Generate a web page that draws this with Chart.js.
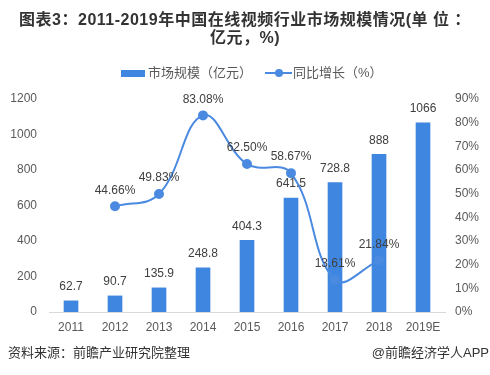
<!DOCTYPE html>
<html>
<head>
<meta charset="utf-8">
<script src="https://cdn.jsdelivr.net/npm/chart.js@4"></script>
<style>
    body { margin: 0; background: #fff; }
    .wrap { position: relative; width: 490px; height: 375px; overflow: hidden; font-family: "Liberation Sans", "Noto Sans CJK SC", sans-serif; }
    .title { position: absolute; left: 0; top: 11px; width: 490px; text-align: center; font-size: 16px; font-weight: bold; color: #333; line-height: 18px; letter-spacing: 0.5px; }
    .legend { position: absolute; top: 65px; font-size: 13px; color: #595959; line-height: 16px; }
    .swatch { position: absolute; left: 121px; top: 70px; width: 24px; height: 7px; background: #3f86e0; }
    .lineKey { position: absolute; left: 265px; top: 72px; width: 27px; height: 2px; background: #4a8ae0; }
    .lineKey::after { content: ''; position: absolute; left: 10px; top: -3px; width: 8px; height: 8px; border-radius: 50%; background: #4a8ae0; }
    .foot { position: absolute; top: 345px; font-size: 13px; color: #333; line-height: 16px; }
    canvas { position: absolute; left: 0; top: 0; }
</style>
</head>
<body>
<div class="wrap">
    <canvas id="chart" width="490" height="375"></canvas>
    <div class="title">图表3：2011-2019年中国在线视频行业市场规模情况(单 位 ：<br>亿元，%)</div>
    <div class="swatch"></div>
    <div class="legend" style="left:148px">市场规模（亿元）</div>
    <div class="lineKey"></div>
    <div class="legend" style="left:293px">同比增长（%）</div>
    <div class="foot" style="left:8px">资料来源：前瞻产业研究院整理</div>
    <div class="foot" style="right:1px">@前瞻经济学人APP</div>
</div>
<script>
const years = ['2011', '2012', '2013', '2014', '2015', '2016', '2017', '2018', '2019E'];
const marketSize = [62.7, 90.7, 135.9, 248.8, 404.3, 641.5, 728.8, 888, 1066];
const growthRate = [null, 44.66, 49.83, 83.08, 62.50, 58.67, 13.61, 21.84, null];

const barColor = '#3f86e0';
const lineColor = '#4a8ae0';
const labelFont = '12px "Liberation Sans", "Noto Sans CJK SC", sans-serif';

// draws the value labels above bars and points
const valueLabels = {
    id: 'valueLabels',
    afterDatasetsDraw(chart) {
        const ctx = chart.ctx;
        ctx.save();
        ctx.font = labelFont;
        ctx.fillStyle = '#404040';
        ctx.textAlign = 'center';
        ctx.textBaseline = 'middle';
        chart.data.datasets.forEach((ds, i) => {
            const meta = chart.getDatasetMeta(i);
            meta.data.forEach((el, j) => {
                const v = ds.data[j];
                if (v === null) return;
                const text = ds.type === 'line' ? v.toFixed(2) + '%' : String(v);
                ctx.fillText(text, el.x, el.y - (ds.type === 'line' ? 16 : 14));
            });
        });
        ctx.restore();
    }
};

const tickFont = { family: '"Liberation Sans", "Noto Sans CJK SC", sans-serif', size: 12 };

new Chart(document.getElementById('chart').getContext('2d'), {
    data: {
        labels: years,
        datasets: [
            {
                type: 'line',
                label: '同比增长（%）',
                data: growthRate,
                yAxisID: 'y1',
                borderColor: lineColor,
                backgroundColor: lineColor,
                borderWidth: 2,
                pointRadius: 4,
                pointBackgroundColor: lineColor,
                tension: 0.4,
                order: 0
            },
            {
                type: 'bar',
                label: '市场规模（亿元）',
                data: marketSize,
                yAxisID: 'y',
                backgroundColor: barColor,
                barThickness: 14,
                order: 1
            }
        ]
    },
    options: {
        responsive: false,
        animation: false,
        layout: { padding: { top: 99, bottom: 35, left: 0, right: 0 } },
        plugins: { legend: { display: false }, tooltip: { enabled: false } },
        scales: {
            x: {
                grid: { display: false },
                border: { color: '#d9d9d9' },
                ticks: { color: '#595959', font: tickFont, padding: 0 },
                afterFit: s => { s.height = 28; }
            },
            y: {
                position: 'left',
                min: 0,
                max: 1200,
                grid: { display: false },
                border: { display: false },
                ticks: { stepSize: 200, color: '#595959', font: tickFont, padding: 4, callback: v => String(v) },
                afterFit: s => { s.width = 49; }
            },
            y1: {
                position: 'right',
                min: 0,
                max: 90,
                grid: { display: false },
                border: { display: false },
                ticks: { stepSize: 10, color: '#595959', font: tickFont, padding: 2, callback: v => v + '%' },
                afterFit: s => { s.width = 45; }
            }
        }
    },
    plugins: [valueLabels]
});
</script>
</body>
</html>
